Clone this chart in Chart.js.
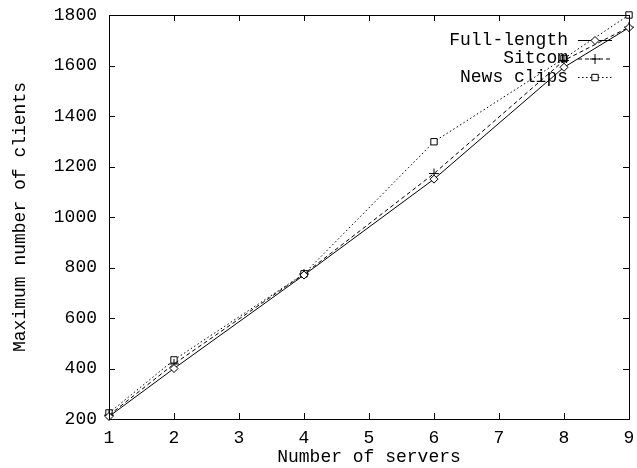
<!DOCTYPE html>
<html>
<head>
<meta charset="utf-8">
<script src="https://cdn.jsdelivr.net/npm/chart.js@4"></script>
<style>
  html, body { margin: 0; padding: 0; background: #fff; }
  #wrap { width: 637px; height: 468px; }
</style>
</head>
<body>
<div id="wrap"><canvas id="line-chart"></canvas></div>
<script>
var servers = [1, 2, 4, 6, 8, 9];
var fullLength = [210, 400, 770, 1150, 1593, 1750];
var sitcom = [215, 418, 774, 1172, 1620, 1752];
var newsClips = [224, 434, 775, 1298, 1628, 1800];
var xTicks = [1, 2, 3, 4, 5, 6, 7, 8, 9];
var yTicks = [200, 400, 600, 800, 1000, 1200, 1400, 1600, 1800];

var FONT = "'Liberation Mono', 'Courier New', monospace";

function toPoints(vals) {
    return servers.map(function (s, i) { return {x: s, y: vals[i]}; });
}

var series = [
    {label: "Full-length", values: fullLength, dash: [], point: 'rectRot', radius: 4},
    {label: "Sitcom", values: sitcom, dash: [4, 3], point: 'cross', radius: 5},
    {label: "News clips", values: newsClips, dash: [1.5, 2.5], point: 'rect', radius: 4.5}
];

// gnuplot style frame with inward ticks on all sides + key in the corner
var gnuplotFrame = {
    id: 'gnuplotFrame',
    afterDatasetsDraw: function (chart) {
        var ctx = chart.ctx, a = chart.chartArea;
        var xs = chart.scales.x, ys = chart.scales.y;
        ctx.save();
        ctx.strokeStyle = '#000';
        ctx.lineWidth = 1;
        ctx.setLineDash([]);
        ctx.strokeRect(Math.round(a.left) + 0.5, Math.round(a.top) + 0.5,
            Math.round(a.right - a.left), Math.round(a.bottom - a.top));
        var t = 6;
        ctx.beginPath();
        xTicks.forEach(function (v) {
            var px = Math.round(xs.getPixelForValue(v)) + 0.5;
            ctx.moveTo(px, a.bottom); ctx.lineTo(px, a.bottom - t);
            ctx.moveTo(px, a.top); ctx.lineTo(px, a.top + t);
        });
        yTicks.forEach(function (v) {
            var py = Math.round(ys.getPixelForValue(v)) + 0.5;
            ctx.moveTo(a.left, py); ctx.lineTo(a.left + t, py);
            ctx.moveTo(a.right, py); ctx.lineTo(a.right - t, py);
        });
        ctx.stroke();

        // key
        ctx.font = '18px ' + FONT;
        ctx.textAlign = 'right';
        ctx.textBaseline = 'middle';
        var textX = 568, x0 = 578, x1 = 612;
        chart.data.datasets.forEach(function (ds, i) {
            var y = 40 + i * 18.5;
            ctx.fillStyle = '#000';
            ctx.fillText(ds.label, textX, y);
            ctx.setLineDash(ds.borderDash || []);
            ctx.beginPath();
            ctx.moveTo(x0, y + 0.5); ctx.lineTo(x1, y + 0.5);
            ctx.stroke();
            ctx.setLineDash([]);
            ctx.fillStyle = '#fff';
            Chart.helpers.drawPoint(ctx, {
                pointStyle: ds.pointStyle, radius: ds.pointRadius, borderWidth: 1
            }, (x0 + x1) / 2, y + 0.5);
        });
        ctx.restore();
    }
};

var ctx = document.getElementById("line-chart");

var myChart = new Chart(ctx, {
    type: 'line',
    data: {
        datasets: series.map(function (s) {
            return {
                label: s.label,
                data: toPoints(s.values),
                borderColor: '#000',
                backgroundColor: '#fff',
                borderWidth: 1,
                borderDash: s.dash,
                pointStyle: s.point,
                pointRadius: s.radius,
                pointBorderColor: '#000',
                pointBackgroundColor: '#fff',
                pointBorderWidth: 1,
                tension: 0,
                clip: false,
                fill: false
            };
        })
    },
    options: {
        responsive: true,
        maintainAspectRatio: false,
        animation: false,
        layout: {padding: {top: 15, right: 8, left: 0, bottom: 0}},
        plugins: {
            legend: {display: false},
            tooltip: {enabled: false}
        },
        scales: {
            x: {
                type: 'linear',
                min: 1,
                max: 9,
                afterFit: function (scale) {
                    scale.height = 49;
                    scale.paddingLeft = 0;
                    scale.paddingRight = 0;
                },
                afterBuildTicks: function (scale) {
                    scale.ticks = xTicks.map(function (v) { return {value: v}; });
                },
                grid: {display: false, drawTicks: false},
                border: {display: false},
                ticks: {
                    color: '#000',
                    padding: 8,
                    font: {family: FONT, size: 18},
                    callback: function (v) { return String(v); }
                },
                title: {
                    display: true,
                    text: 'Number of servers',
                    color: '#000',
                    padding: {top: 0, bottom: 0},
                    font: {family: FONT, size: 18}
                }
            },
            y: {
                type: 'linear',
                min: 200,
                max: 1800,
                afterFit: function (scale) {
                    scale.width = 109;
                    scale.paddingTop = 0;
                    scale.paddingBottom = 0;
                },
                afterBuildTicks: function (scale) {
                    scale.ticks = yTicks.map(function (v) { return {value: v}; });
                },
                grid: {display: false, drawTicks: false},
                border: {display: false},
                ticks: {
                    color: '#000',
                    padding: 12,
                    font: {family: FONT, size: 18},
                    callback: function (v) { return String(v); }
                },
                title: {
                    display: true,
                    text: 'Maximum number of clients',
                    color: '#000',
                    padding: {top: 9, bottom: 0},
                    font: {family: FONT, size: 18}
                }
            }
        }
    },
    plugins: [gnuplotFrame]
});
</script>
</body>
</html>
